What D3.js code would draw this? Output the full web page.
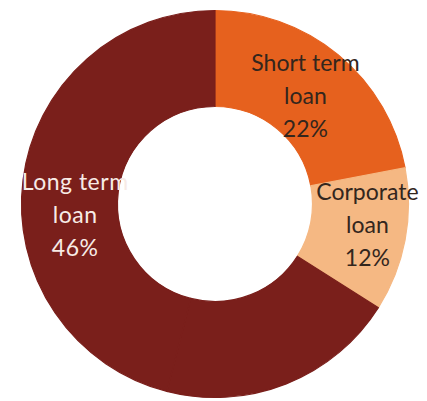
<!DOCTYPE html>
<html>
<head>
<meta charset="utf-8">
<script src="https://cdn.jsdelivr.net/npm/d3@7"></script>
<style>
  body { margin: 0; background: #fff; }
</style>
</head>
<body>
<script>
// slice data, clockwise from 12 o'clock
var categories = ["Short term loan", "Corporate loan", "Other", "Long term loan"];
var values = [22, 12, 20, 46];
var labelLines = [["Short term", "loan", "22%"], ["Corporate", "loan", "12%"], [], ["Long term", "loan", "46%"]];
var colors = ["#e6611e", "#f5b883", "#7a1f1b", "#7a1f1b"];
var textColors = ["#33261d", "#33261d", "#fff", "#f7ebe6"];

var svg = d3.select("body").append("svg")
    .attr("width", 427)
    .attr("height", 401);

var cx = 215, cy = 204;
var outer = 193.5, inner = 97.5;

var g = svg.append("g")
    .attr("transform", "translate(" + cx + "," + cy + ")");

var data = categories.map(function(c, i) { return {name: c, value: values[i], i: i}; });

var pie = d3.pie()
    .sort(null)
    .value(function(d) { return d.value; });

var arc = d3.arc()
    .innerRadius(inner)
    .outerRadius(outer);

var labelArc = d3.arc()
    .innerRadius(145)
    .outerRadius(145);

var arcs = pie(data);

g.selectAll("path.slice")
    .data(arcs)
  .enter().append("path")
    .attr("class", "slice")
    .attr("d", arc)
    .style("fill", function(d) { return colors[d.data.i]; })
    .style("stroke", function(d) { return colors[d.data.i]; })
    .style("stroke-width", 1.2);

// small nudges so labels sit where the original placed them
var nudge = [[-2, 4], [10, -6], [0, 0], [4, 29]];

var labels = g.selectAll("g.label")
    .data(arcs)
  .enter().append("g")
    .attr("class", "label")
    .attr("transform", function(d) {
      var c = labelArc.centroid(d);
      var n = nudge[d.data.i];
      return "translate(" + (c[0] + n[0]) + "," + (c[1] + n[1]) + ")";
    });

labels.each(function(d) {
  var lines = labelLines[d.data.i];
  var sel = d3.select(this);
  lines.forEach(function(t, k) {
    sel.append("text")
      .attr("y", (k - 1) * 33)
      .attr("dy", "0.35em")
      .style("text-anchor", "middle")
      .style("font-family", "Lato, 'Open Sans', sans-serif")
      .style("font-size", "23px")
      .style("letter-spacing", d.data.i == 3 ? "0.5px" : "0px")
      .style("fill", textColors[d.data.i])
      .text(t);
  });
});
</script>
</body>
</html>
